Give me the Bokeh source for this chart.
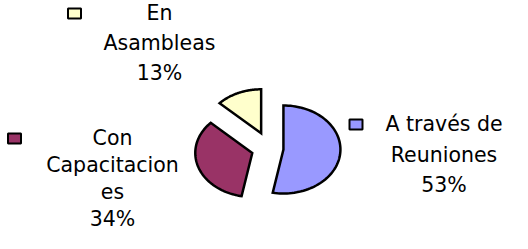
import numpy as np
from bokeh.plotting import figure
from bokeh.models import Range1d
from bokeh.core.properties import value
from bokeh.embed import file_html
from bokeh.resources import INLINE

# ---- data ----
categories = ["A través de Reuniones", "Con Capacitaciones", "En Asambleas"]
values = [53, 34, 13]
label_lines = [["A través de", "Reuniones"], ["Con", "Capacitacion", "es"], ["En", "Asambleas"]]
colors = ["#9999FF", "#993366", "#FFFFCC"]

# ---- layout (pixels, y grows downward) ----
W, H = 512, 233
cx, cy = 267.0, 147.5
rx, ry = 57.0, 44.0
explode = 16.0
label_anchor = [(443.5, 131.0), (112.0, 145.0), (159.0, 20.3)]   # centre x, first baseline
line_h = [30.5, 27.0, 29.8]
key_dx = [-88.0, -98.0, -85.0]
key_dy = [-7.0, -7.0, -7.3]
baseline_fix = -7.5
font = "DejaVu Sans"
fsize = "20.5px"

p = figure(width=W, height=H, output_backend="svg", toolbar_location=None,
           x_range=Range1d(0, W), y_range=Range1d(H, 0), min_border=0)
p.axis.visible = False
p.grid.visible = False
p.outline_line_color = None
p.background_fill_color = "white"
p.border_fill_color = "white"

total = float(sum(values))
fracs = np.array(values) / total
ends = np.cumsum(fracs) * 2 * np.pi
starts = ends - fracs * 2 * np.pi

xs, ys = [], []
for s, e in zip(starts, ends):
    mid = 0.5 * (s + e)
    vx = cx + explode * np.sin(mid)
    vy = cy - explode * np.cos(mid)
    t = np.linspace(s, e, 80)
    xs.append([vx] + list(vx + rx * np.sin(t)))
    ys.append([vy] + list(vy - ry * np.cos(t)))

p.patches(xs=xs, ys=ys, fill_color=colors, line_color="black", line_width=2.5,
          line_join="miter")

tx, ty, tt = [], [], []
kx, ky = [], []
for i, (lines, v) in enumerate(zip(label_lines, values)):
    ax, ay = label_anchor[i]
    all_lines = lines + [f"{v}%"]
    for j, ln in enumerate(all_lines):
        tx.append(ax)
        ty.append(ay + j * line_h[i] + baseline_fix)
        tt.append(ln)
    kx.append(ax + key_dx[i])
    ky.append(ay + key_dy[i])

p.text(x=tx, y=ty, text=tt, text_align="center", text_baseline="alphabetic",
       text_font=value(font), text_font_size=fsize, text_color="black")
p.rect(x=kx, y=ky, width=13, height=10, fill_color=colors, line_color="black", line_width=2)

open("out.html", "w").write(file_html(p, INLINE))
